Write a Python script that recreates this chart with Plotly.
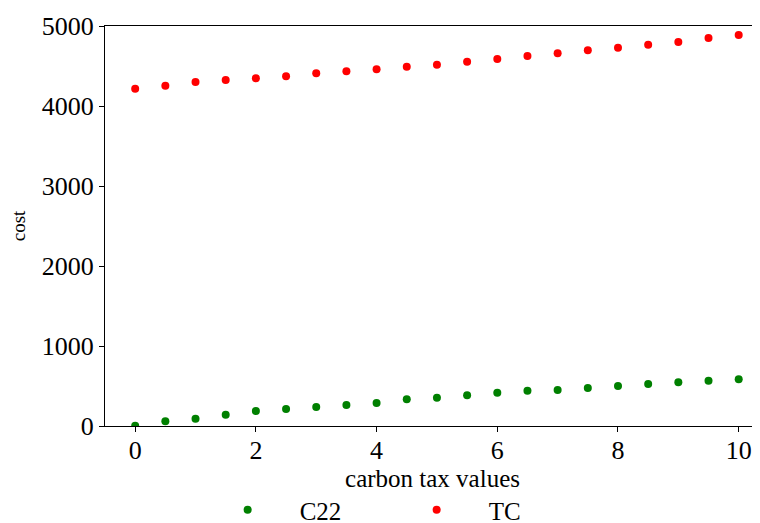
import plotly.graph_objects as go

carbon_tax = [0, 0.5, 1, 1.5, 2, 2.5, 3, 3.5, 4, 4.5, 5, 5.5, 6, 6.5, 7, 7.5, 8, 8.5, 9, 9.5, 10]
c22 = [4, 58, 92, 142, 188, 212, 238, 262, 288, 333, 354, 383, 417, 442, 450, 475, 500, 525, 546, 567, 583]
tc = [4216, 4254, 4300, 4325, 4346, 4371, 4408, 4433, 4458, 4492, 4517, 4554, 4588, 4625, 4658, 4696,
      4729, 4767, 4800, 4850, 4888]
y_ticks = [0, 1000, 2000, 3000, 4000, 5000]
x_ticks = [0, 2, 4, 6, 8, 10]

FONT = "Liberation Serif, Times New Roman, serif"

fig = go.Figure()
fig.add_trace(go.Scatter(x=carbon_tax, y=c22, mode="markers", name="C22",
                         marker=dict(color="green", size=8, line=dict(width=0))))
fig.add_trace(go.Scatter(x=carbon_tax, y=tc, mode="markers", name="TC",
                         marker=dict(color="red", size=8, line=dict(width=0))))

# page has an 8px body margin, so the figure is sized to fit the window
fig.update_layout(
    width=752, height=515,
    margin=dict(l=97, r=0, t=18, b=97, autoexpand=False),
    paper_bgcolor="white", plot_bgcolor="white",
    font=dict(family=FONT, color="black", size=26),
    showlegend=True,
    legend=dict(orientation="h", x=0.1384, y=-0.1525, xanchor="left", yanchor="top",
                font=dict(size=25), entrywidth=80, entrywidthmode="pixels",
                bgcolor="rgba(0,0,0,0)", itemwidth=94),
    xaxis=dict(range=[-0.5, 10.353], tickvals=x_ticks, ticks="outside", ticklen=5, tickwidth=1,
               tickcolor="black", showline=True, linecolor="black", linewidth=1, mirror=True,
               showgrid=False, zeroline=False, tickfont=dict(size=26), automargin=False,
               ticklabelstandoff=-4,
               title=dict(text="carbon tax values", font=dict(size=25), standoff=0)),
    yaxis=dict(range=[0, 5000], tickvals=y_ticks, ticks="outside", ticklen=5, tickwidth=1,
               tickcolor="black", showline=True, linecolor="black", linewidth=1, mirror=False,
               showgrid=False, zeroline=False, tickfont=dict(size=26), automargin=False,
               title=dict(text="cost", font=dict(size=19), standoff=11)),
)

fig.write_html("out.html")
